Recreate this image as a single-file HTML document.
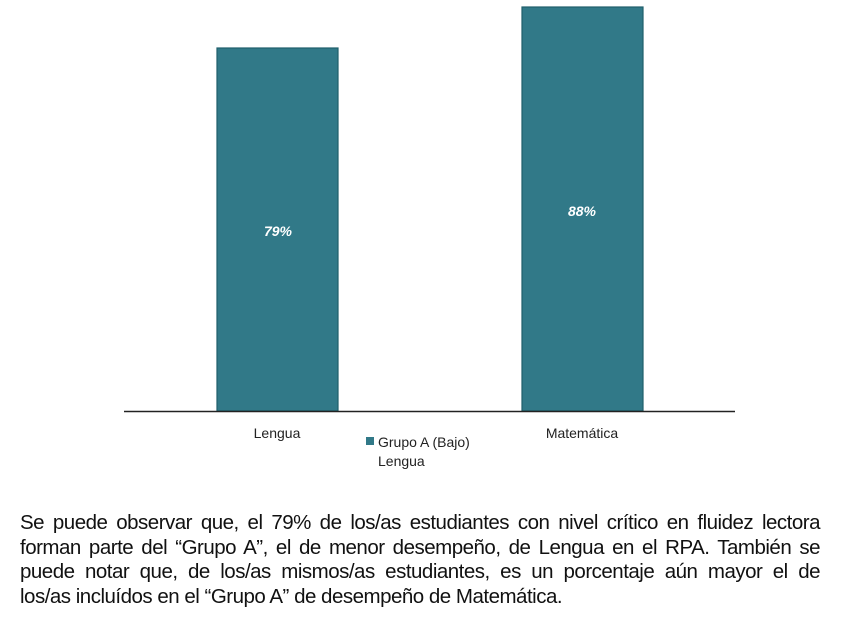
<!DOCTYPE html>
<html><head><meta charset="utf-8"><style>
html,body{margin:0;padding:0;background:#fff;width:848px;height:620px;overflow:hidden}
svg{position:absolute;left:0;top:0}
.p{position:absolute;left:20px;top:511px;width:800px;font-family:"Liberation Sans",sans-serif;font-size:20.5px;line-height:24.7px;color:#111;letter-spacing:-0.5px}
.p div{text-align:justify;text-align-last:justify;white-space:nowrap}
.p div.l{text-align-last:left}
</style></head><body>
<svg width="848" height="500" xmlns="http://www.w3.org/2000/svg">
<rect x="217" y="48" width="121" height="363" fill="#317988" stroke="#1f5f6b" stroke-width="1.2"/>
<rect x="522" y="7" width="121" height="404" fill="#317988" stroke="#1f5f6b" stroke-width="1.2"/>
<line x1="124" y1="411.5" x2="735" y2="411.5" stroke="#222" stroke-width="1.5"/>
<text x="278" y="236" text-anchor="middle" fill="#fff" font-family="Liberation Sans,sans-serif" font-size="14" font-weight="bold" font-style="italic">79%</text>
<text x="582" y="216" text-anchor="middle" fill="#fff" font-family="Liberation Sans,sans-serif" font-size="14" font-weight="bold" font-style="italic">88%</text>
<text x="277" y="438" text-anchor="middle" fill="#222" font-family="Liberation Sans,sans-serif" font-size="14">Lengua</text>
<text x="582" y="438" text-anchor="middle" fill="#222" font-family="Liberation Sans,sans-serif" font-size="14">Matemática</text>
<rect x="366" y="437" width="8" height="8" fill="#317988"/>
<text x="378" y="447" fill="#222" font-family="Liberation Sans,sans-serif" font-size="14">Grupo A (Bajo)</text>
<text x="378" y="466" fill="#222" font-family="Liberation Sans,sans-serif" font-size="14">Lengua</text>
</svg>
<div class="p">
<div>Se puede observar que, el 79% de los/as estudiantes con nivel crítico en fluidez lectora</div>
<div>forman parte del “Grupo A”, el de menor desempeño, de Lengua en el RPA. También se</div>
<div>puede notar que, de los/as mismos/as estudiantes, es un porcentaje aún mayor el de</div>
<div class="l">los/as incluídos en el “Grupo A” de desempeño de Matemática.</div>
</div>
</body></html>
